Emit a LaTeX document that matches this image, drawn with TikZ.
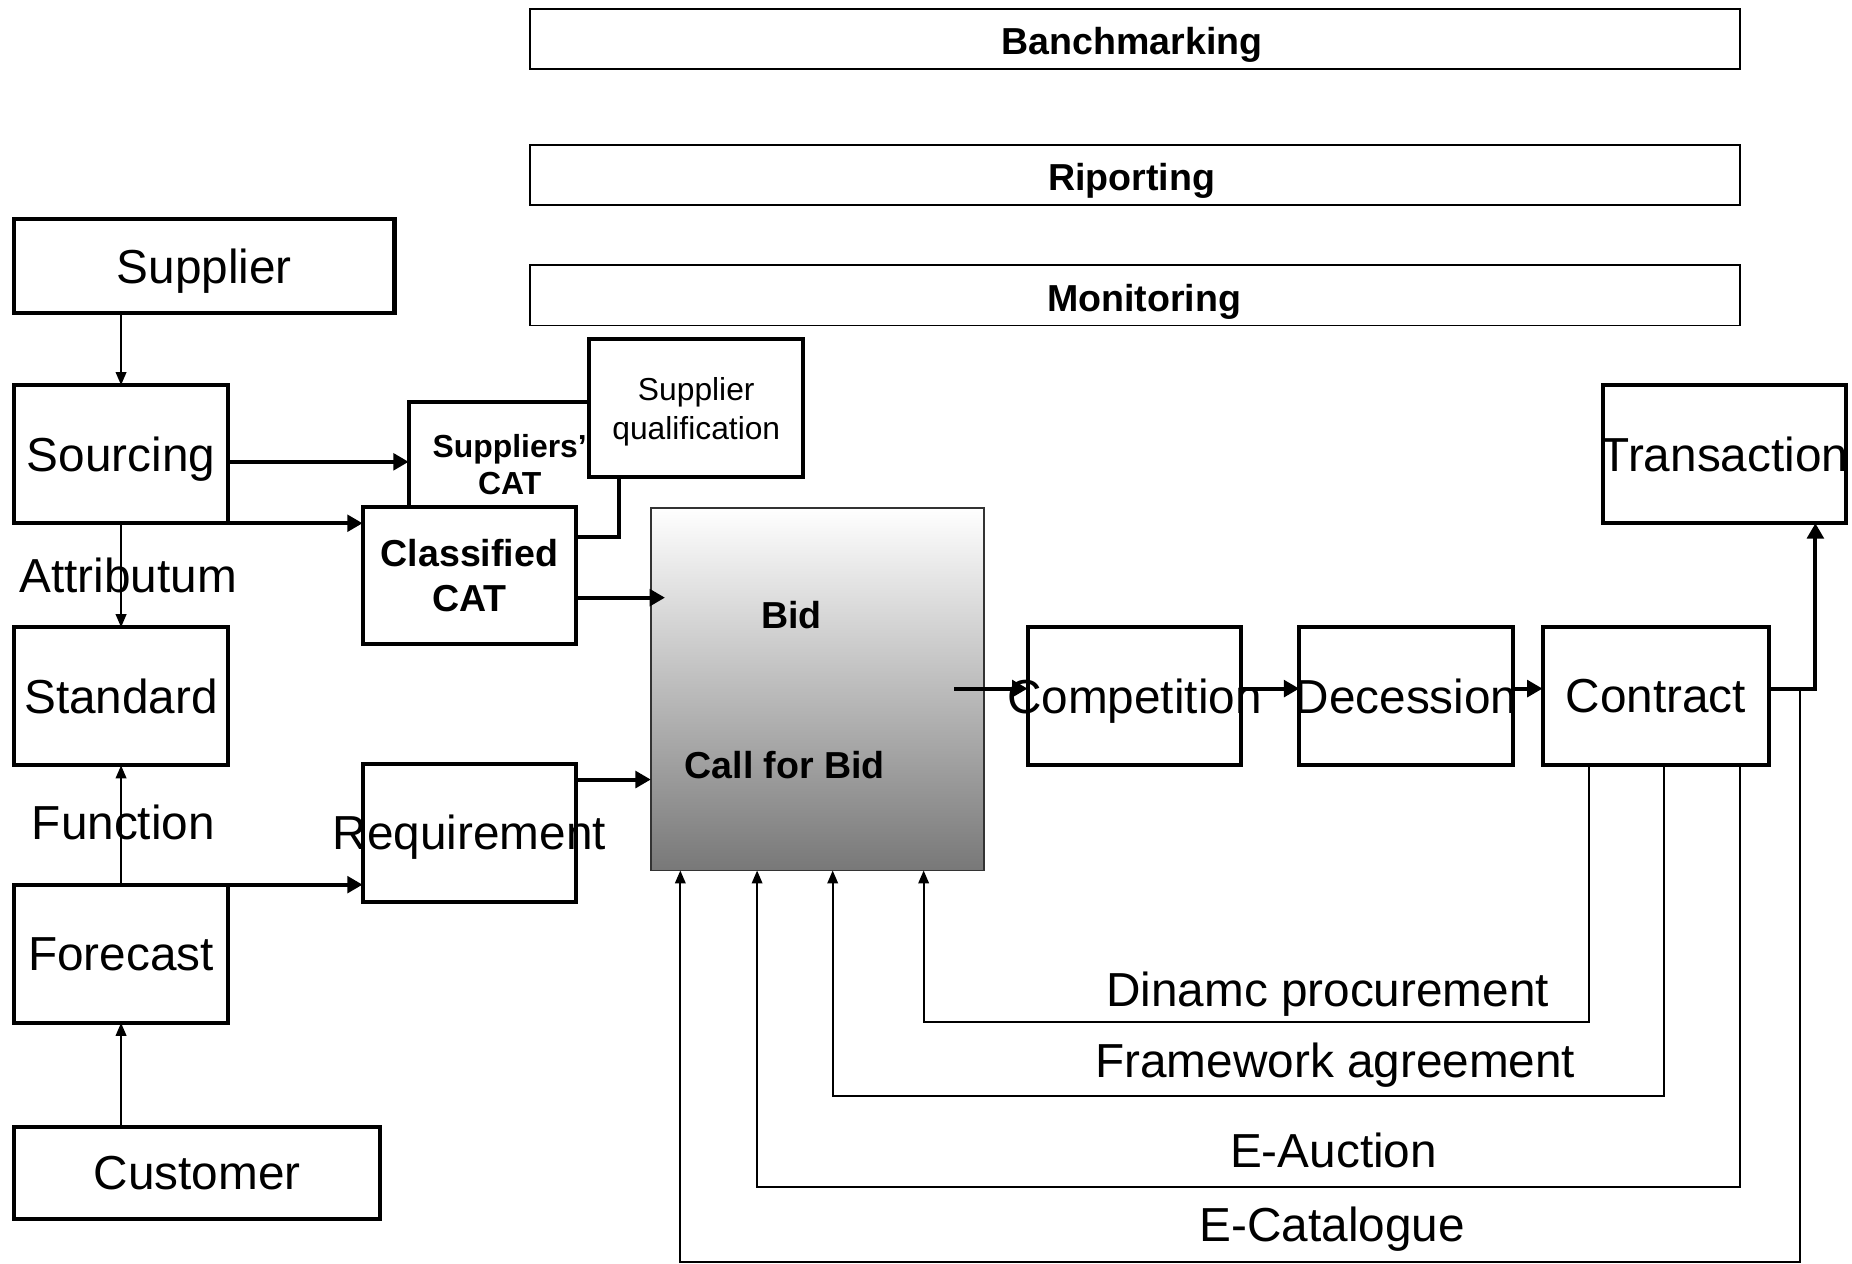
\documentclass[tikz,border=0pt]{standalone}
\usepackage{fontspec}
\setmainfont{Liberation Sans}
\usetikzlibrary{arrows.meta}
\newcommand{\zw}[1]{\makebox[0pt]{#1}}
\begin{document}
\begin{tikzpicture}[x=0.5pt,y=-0.5pt,
  box/.style={draw, line width=1.7pt, fill=white, inner sep=0pt, outer sep=0pt, text depth=0pt, font=\fontsize{20.2}{24}\selectfont},
  sq/.style={minimum width=90.5pt, minimum height=58.5pt},
  bar/.style={draw, line width=0.75pt, inner sep=0pt, outer sep=0pt, minimum width=512pt, minimum height=25.5pt},
  bartext/.style={font=\fontsize{15.9}{19}\selectfont\bfseries, anchor=base, inner sep=0pt},
  lbl/.style={font=\fontsize{20.2}{24}\selectfont, anchor=base, inner sep=0pt},
  thinarr/.style={line width=0.75pt, -{Triangle[length=5.5pt,width=4.5pt]}},
  thkln/.style={line width=1.7pt},
  thkarr/.style={line width=1.7pt, -{Triangle[length=6.5pt,width=7pt]}}
]
\useasboundingbox (0,0) rectangle (1568,1070);

% top bars
\node[bar] (bench) at (961,33) {};
\node[bartext] (bencht) at (958.6,46) {Banchmarking};
\node[bar] (rip) at (961,148) {};
\node[bartext] (ript) at (958,161.4) {Riporting};
\node[bar] (mon) at (961,250) {};
\node[bartext] (mont) at (968.8,264) {Monitoring};

% left column
\node[box, minimum width=161pt, minimum height=40pt] (sup) at (173,225) {Supplier};
\node[box, sq] (src) at (102.5,384.5) {Sourcing};
\node[box, sq] (stdd) at (102.5,589.5) {Standard};
\node[box, sq] (fc) at (102.5,807.5) {Forecast};
\node[box, minimum width=155pt, minimum height=39pt] (cust) at (167,993) {Customer};

% catalogue boxes
\node[box, minimum width=89pt, minimum height=57.5pt] (scat) at (435,397.5) {};
\node[align=center, inner sep=0pt, text depth=0pt, font=\fontsize{13.5}{15.5}\selectfont\bfseries] (scatt) at (431.5,393) {Suppliers’\\CAT};
\node[box, sq, align=center, font=\fontsize{13.45}{16.5}\selectfont] (qual) at (589.5,345.5) {Supplier\\qualification};
\node[box, minimum width=90.5pt, minimum height=58pt, align=center, font=\fontsize{15.9}{19}\selectfont\bfseries] (ccat) at (397.5,487) {Classified\\CAT};
\node[box, sq] (req) at (397.5,705) {\zw{Requirement}};

% bid box
\node[draw=black!80, line width=0.75pt, top color=white, middle color=black!19, bottom color=black!53, minimum width=141pt, minimum height=153.5pt, inner sep=0pt, outer sep=0pt] (bid) at (692,583.5) {};
\node[bartext] (bidt) at (670,532) {Bid};
\node[bartext] (cfb) at (664.4,659.5) {Call for Bid};

% process chain
\node[box, sq] (comp) at (960.5,589.5) {\zw{Competition}};
\node[box, sq] (dec) at (1190.5,589.5) {\zw{Decession}};
\node[box, minimum width=96pt, minimum height=58.5pt] (con) at (1402,589.5) {Contract};
\node[box, minimum width=103pt, minimum height=58.5pt] (trans) at (1460,384.5) {\zw{Transaction}};

% left connectors
\draw[thinarr] (src.north |- sup.south) -- (src.north);
\draw[thinarr] (src.south) -- (stdd.north);
\draw[thinarr] (fc.north) -- (stdd.south);
\draw[thinarr] (fc.south |- cust.north) -- (fc.south);
\node[lbl] (attr) at (108.5,502) {Attributum};
\node[lbl] (func) at (104.5,711) {Function};

\coordinate (qj) at (524,455);
\draw[thkarr] (src.east |- 0,391) -- (scat.west |- 0,391);
\draw[thkarr] (src.south east) -- (ccat.west |- src.south east);
\draw[thkln] (qual.south -| qj) -- (qj) -- (ccat.east |- qj);
\draw[thkarr, shorten >=-6pt] (ccat.east |- 0,506) -- (bid.west |- 0,506);
\draw[thkarr] (req.east |- 0,660) -- (bid.west |- 0,660);
\draw[thkarr] (fc.north east) -- (req.west |- fc.north east);

% chain connectors
\coordinate (bidout) at (808,583);
\draw[thkarr] (bidout) -- (comp.west |- bidout);
\draw[thkarr] (comp.east |- bidout) -- (dec.west |- bidout);
\draw[thkarr] (dec.east |- bidout) -- (con.west |- bidout);
\draw[thkarr] (con.east |- bidout) -| (trans.south -| 1537,0);

% feedback loops
\coordinate (tap) at (1524,583);
\draw[thinarr] (con.south -| 1345,0) -- (1345,865) -| (bid.south -| 782,0);
\draw[thinarr] (con.south -| 1409,0) -- (1409,928) -| (bid.south -| 705,0);
\draw[thinarr] (con.south -| 1473,0) -- (1473,1005) -| (bid.south -| 641,0);
\draw[thinarr] (tap) -- (1524,1068.5) -| (bid.south -| 576,0);

\node[lbl] (dyn) at (1124,852) {Dinamc procurement};
\node[lbl] (fw) at (1130.5,912) {Framework agreement};
\node[lbl] (eauc) at (1129,988.5) {E-Auction};
\node[lbl] (ecat) at (1128,1051.5) {E-Catalogue};
\end{tikzpicture}
\end{document}
